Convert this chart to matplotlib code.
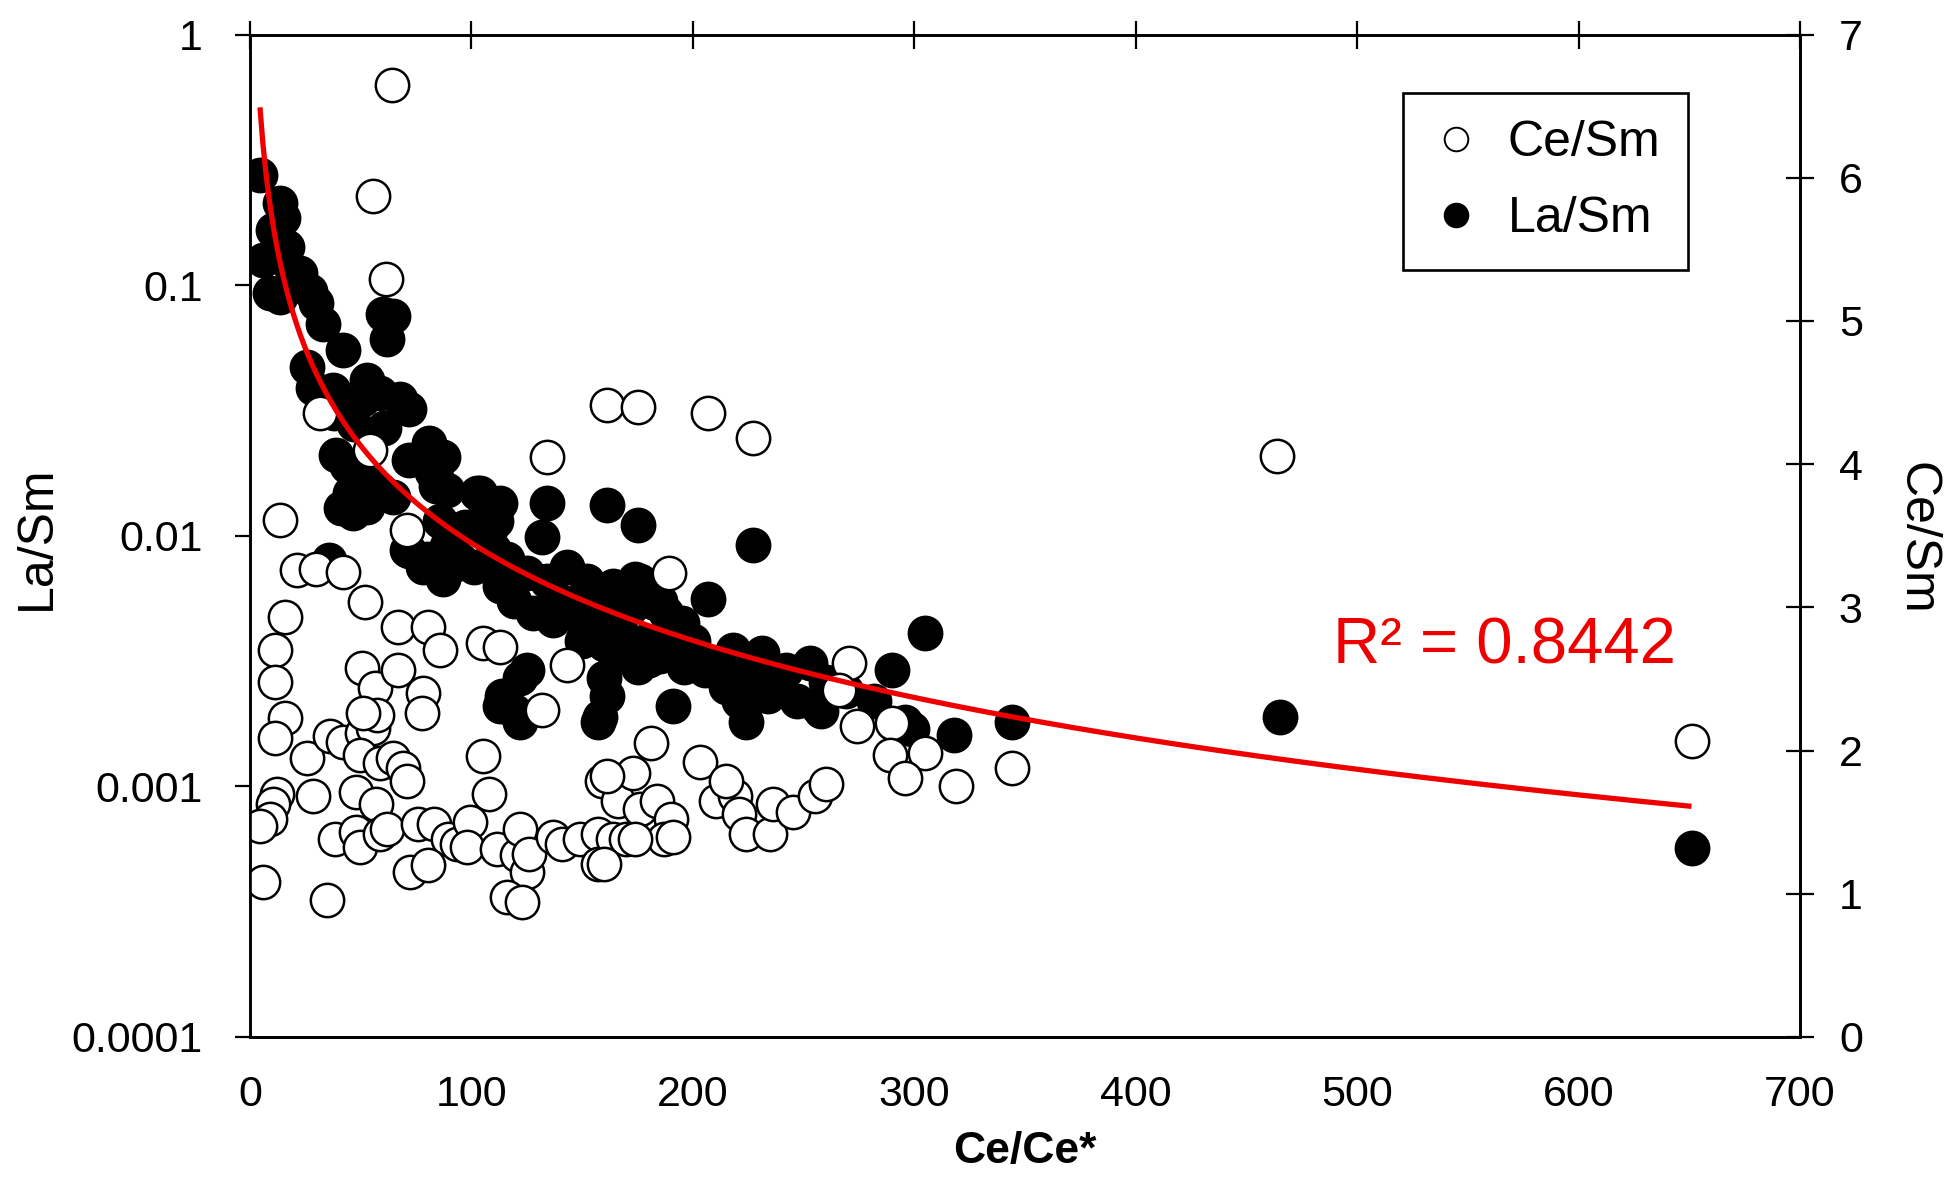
import numpy as np
import matplotlib
matplotlib.use("Agg")
import matplotlib.pyplot as plt
from matplotlib.lines import Line2D

plt.rcParams['font.family'] = ['Liberation Sans', 'DejaVu Sans']

# ---------------- data ----------------
# La/Sm (filled circles, left log axis) vs Ce/Ce*
la_x = [4.5, 13.5, 10.4, 5.9, 16.6, 22.6, 9, 13.5, 30, 33, 60, 64.6, 62, 42, 25.7, 52.8,
        67.7, 34.7, 15, 19, 27, 28.5, 37.5, 51, 58.7, 72, 39, 48, 45, 46.5, 53, 58.7,
        64.6, 81, 87, 84.5, 89, 104, 113, 134, 132, 161, 175, 71, 78, 87, 95, 101,
        110, 117, 125, 134, 143, 152, 158, 164, 176, 185, 113, 119, 128, 137, 146, 155,
        125, 122, 114, 119, 160, 161, 158, 191, 167, 179, 188, 113, 122, 157, 227, 174,
        207, 305, 183, 193, 185, 196, 205.6, 218, 231, 242, 253, 260, 269, 290, 296,
        318, 344, 221, 224, 234, 247, 256, 282, 299, 258, 465, 651, 60.6, 71.8, 55,
        44, 41, 35.6, 86, 89, 97, 93, 72, 80, 82, 84, 102.5, 106.6, 108, 111, 116,
        160, 165, 170, 175, 180, 212, 225, 238, 215, 38, 47,
        150, 165, 172, 195, 200, 150, 140, 190]
la_y = [0.275, 0.213, 0.166, 0.126, 0.142, 0.112, 0.093, 0.09, 0.085, 0.07, 0.077, 0.075,
        0.061, 0.055, 0.047, 0.042, 0.035, 0.037, 0.185, 0.115, 0.095, 0.039, 0.038, 0.035,
        0.037, 0.032, 0.021, 0.0183, 0.0148, 0.0123, 0.013, 0.0152, 0.0143, 0.0234,
        0.0206, 0.0167, 0.0152, 0.0148, 0.0135, 0.0135, 0.0099, 0.0133, 0.011, 0.0088,
        0.0075, 0.0067, 0.008, 0.0075, 0.0088, 0.0075, 0.0071, 0.0066, 0.0075, 0.0066,
        0.0059, 0.0063, 0.0066, 0.0055, 0.0063, 0.0055, 0.0049, 0.0046, 0.0049, 0.0043,
        0.0029, 0.0027, 0.0023, 0.002, 0.0027, 0.0023, 0.0019, 0.0021, 0.0042, 0.0038,
        0.0049, 0.0021, 0.0018, 0.0018, 0.0092, 0.0067, 0.0056, 0.0041, 0.0054, 0.0042,
        0.0033, 0.003, 0.0029, 0.0035, 0.0034, 0.0029, 0.0031, 0.0026, 0.0024, 0.0029,
        0.0018, 0.0016, 0.0018, 0.0022, 0.0018, 0.0023, 0.0022, 0.0021, 0.0022, 0.0017,
        0.002, 0.0019, 0.00057, 0.027, 0.020, 0.016, 0.019, 0.0129, 0.008, 0.0114,
        0.0091, 0.0108, 0.0077, 0.0087, 0.0081, 0.018, 0.0158, 0.0148, 0.0129, 0.0102,
        0.0114, 0.0081, 0.0037, 0.0033, 0.0035, 0.003, 0.0032, 0.0031, 0.0028, 0.0026,
        0.0025, 0.031, 0.028,
        0.0052, 0.0047, 0.0052, 0.0045, 0.0038, 0.0038, 0.0055, 0.0036]

# Ce/Sm (open circles, right linear axis) vs Ce/Ce*
ce_x = [64, 55.7, 61.4, 31.6, 54, 70.8, 161, 175, 134, 207, 227, 464, 13.5, 21, 30, 42,
        52, 15.8, 11.3, 11.3, 67, 80.4, 85.8, 105, 113, 143, 189, 50.6, 56.5, 67, 78,
        77.7, 15.8, 132, 11.3, 25.7, 36, 42, 50.6, 55.6, 57.3, 51, 49.7, 58.7, 64.6, 69,
        70.8, 48, 57, 28.5, 12, 10.4, 9, 4.5, 38.4, 48, 49.7, 58.7, 61.9, 76, 83, 89.6,
        93.5, 72.3, 80.4, 99.4, 98, 105, 108, 111.5, 120.6, 125, 122, 126, 116, 123, 6,
        34.7, 137, 141, 149, 157, 157, 164, 170, 159, 166, 173, 176, 181, 184, 190, 187,
        203, 161, 191, 174, 160, 210.5, 219, 215, 221, 224, 235, 236, 245, 255, 260,
        270.5, 266, 274, 290, 289, 305, 296, 319, 344, 651]
ce_y = [6.65, 5.87, 5.29, 4.36, 4.10, 3.54, 4.41, 4.40, 4.05, 4.36, 4.18, 4.06, 3.61, 3.26,
        3.27, 3.25, 3.04, 2.93, 2.70, 2.48, 2.86, 2.86, 2.70, 2.75, 2.72, 2.60, 3.24,
        2.58, 2.44, 2.56, 2.40, 2.26, 2.23, 2.28, 2.09, 1.95, 2.10, 2.06, 2.12, 2.16,
        2.25, 2.26, 1.97, 1.91, 1.95, 1.88, 1.79, 1.71, 1.63, 1.68, 1.70, 1.63, 1.52,
        1.47, 1.38, 1.43, 1.33, 1.42, 1.45, 1.49, 1.49, 1.38, 1.35, 1.15, 1.20, 1.50,
        1.33, 1.96, 1.70, 1.31, 1.27, 1.15, 1.45, 1.28, 0.98, 0.94, 1.08, 0.96, 1.40,
        1.35, 1.38, 1.42, 1.21, 1.38, 1.38, 1.79, 1.65, 1.84, 1.59, 2.05, 1.65, 1.52,
        1.38, 1.92, 1.82, 1.40, 1.38, 1.21, 1.65, 1.68, 1.79, 1.56, 1.42, 1.42, 1.63,
        1.57, 1.68, 1.77, 2.61, 2.42, 2.17, 2.19, 1.97, 1.98, 1.81, 1.75, 1.88, 2.07]

# power-law trend of La/Sm (y = A * x^B)
FIT_A = 3.57
FIT_B = -1.291
FIT_XMIN, FIT_XMAX = 4.5, 651
R2_TEXT = "R² = 0.8442"

x_ticks = [0, 100, 200, 300, 400, 500, 600, 700]
left_ticks = [0.0001, 0.001, 0.01, 0.1, 1]
left_labels = ["0.0001", "0.001", "0.01", "0.1", "1"]
right_ticks = [0, 1, 2, 3, 4, 5, 6, 7]

# ---------------- figure ----------------
W, H = 1944, 1177
fig = plt.figure(figsize=(W / 100, H / 100), dpi=100)
L, R, T, B = 250, 1800, 34.5, 1037
ax1 = fig.add_axes([L / W, 1 - B / H, (R - L) / W, (B - T) / H])
ax2 = ax1.twinx()

MS = 24
MEW = 1.8
TICKFS = 31

ax1.plot(la_x, la_y, linestyle='none', marker='o', ms=MS, mfc='black', mec='black', mew=MEW)
ax2.plot(ce_x, ce_y, linestyle='none', marker='o', ms=MS, mfc='white', mec='black', mew=MEW)

fx = np.linspace(FIT_XMIN, FIT_XMAX, 500)
fy = FIT_A * fx ** FIT_B
ax2.plot(fx, fy, color='#ee0000', lw=3.8, transform=ax1.transData, solid_capstyle='butt')

ax1.set_xlim(0, 700)
ax1.set_yscale('log')
ax1.set_ylim(1e-4, 1)
ax2.set_ylim(0, 7)

ax1.set_xticks(x_ticks)
ax1.set_xticklabels([str(v) for v in x_ticks])
ax1.set_yticks(left_ticks)
ax1.set_yticklabels(left_labels)
ax1.yaxis.set_minor_locator(matplotlib.ticker.NullLocator())
ax2.set_yticks(right_ticks)
ax2.set_yticklabels([str(v) for v in right_ticks])

ax1.tick_params(axis='x', which='major', direction='inout', length=20, width=1.6,
                top=True, bottom=False, labeltop=False, labelbottom=True,
                pad=17, labelsize=TICKFS)
ax1.tick_params(axis='y', which='major', direction='out', length=11, width=1.6,
                left=True, right=False, pad=23, labelsize=TICKFS)
ax2.tick_params(axis='y', which='major', direction='inout', length=20, width=1.6,
                right=True, left=False, pad=18, labelsize=TICKFS)

for ax in (ax1, ax2):
    for s in ax.spines.values():
        s.set_linewidth(1.9)
        s.set_color('black')

fig.text(37 / W, 1 - 538 / H, "La/Sm", rotation=90, ha='center', va='center', fontsize=36)
fig.text(1916 / W, 1 - 538 / H, "Ce/Sm", rotation=270, ha='center', va='center', fontsize=36)
fig.text(1025 / W, 1 - 1152 / H, "Ce/Ce*", ha='center', va='center', fontsize=32,
         fontweight='bold')
fig.text(1333 / W, 1 - 663 / H, R2_TEXT, ha='left', va='baseline', fontsize=47,
         color='#ee0000')

handles = [
    Line2D([], [], linestyle='none', marker='o', ms=17, mfc='white', mec='black', mew=1.4),
    Line2D([], [], linestyle='none', marker='o', ms=17, mfc='black', mec='black', mew=1.4),
]
leg = ax2.legend(handles, ["Ce/Sm", "La/Sm"], loc='upper left',
                 bbox_to_anchor=(1403 / W, 1 - 93 / H), bbox_transform=fig.transFigure,
                 borderaxespad=0, fontsize=36, frameon=True, fancybox=False,
                 framealpha=1, edgecolor='black', handlelength=1.0,
                 handletextpad=0.55, labelspacing=0.6, borderpad=0.55)
leg.get_frame().set_linewidth(1.9)

fig.savefig("out.png", dpi=100)
